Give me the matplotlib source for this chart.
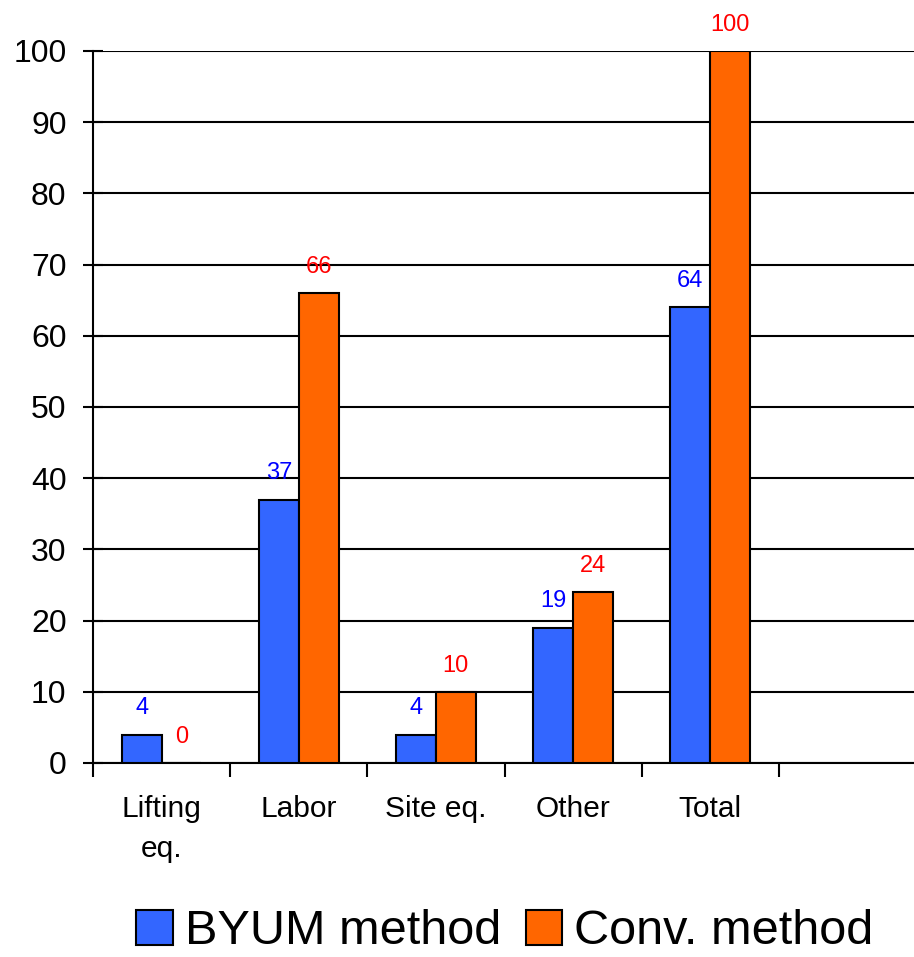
import matplotlib.pyplot as plt
import numpy as np

plt.rcParams['font.family'] = ['Liberation Sans', 'DejaVu Sans']

categories = ['Lifting\neq.', 'Labor', 'Site eq.', 'Other', 'Total']
byum = [4, 37, 4, 19, 64]
conv = [0, 66, 10, 24, 100]

BLUE = '#3366FF'
ORANGE = '#FF6600'

fig = plt.figure(figsize=(9.14, 9.57), dpi=100)
ax = fig.add_axes([93 / 914, 1 - 763 / 957, 823 / 914, (763 - 51) / 957])

centers = np.arange(len(categories)) + 0.5
w = 0.29
ax.bar(centers - w / 2, byum, w, color=BLUE, edgecolor='black', linewidth=1.5,
       label='BYUM method', zorder=3)
ax.bar(centers + w / 2, conv, w, color=ORANGE, edgecolor='black', linewidth=1.5,
       label='Conv. method', zorder=3)

for x, v in zip(centers - w / 2, byum):
    ax.annotate(str(v), (x, v), xytext=(0, 11), textcoords='offset points',
                ha='center', va='bottom', color='#0000FF', fontsize=17)
for x, v in zip(centers + w / 2, conv):
    ax.annotate(str(v), (x, v), xytext=(0, 11), textcoords='offset points',
                ha='center', va='bottom', color='#FF0000', fontsize=17)

ax.set_xlim(0, 6)
ax.set_ylim(0, 100)
ax.set_yticks(np.arange(0, 101, 10))
ax.yaxis.grid(True, color='black', linewidth=1.5)
ax.set_axisbelow(True)

ax.set_xticks(np.arange(0, 7))
ax.set_xticklabels([])
ax.set_xticks(centers, minor=True)
ax.set_xticklabels(categories, minor=True, fontsize=21.5, linespacing=1.55)
ax.tick_params(axis='x', which='minor', length=0, pad=23)
ax.tick_params(axis='x', which='major', direction='out', length=10, width=1.5)
ax.tick_params(axis='y', direction='inout', length=14, width=1.5, labelsize=23, pad=12)

for s in ['top', 'right']:
    ax.spines[s].set_visible(False)
ax.spines['left'].set_linewidth(1.5)
ax.spines['bottom'].set_linewidth(1.5)

fig.legend(loc='center', bbox_to_anchor=(505 / 914, 1 - 932 / 957), ncol=2,
           frameon=False, fontsize=35, handlelength=0.75, handleheight=0.75,
           handletextpad=0.25, columnspacing=0.5)

fig.savefig('out.png', dpi=100)
